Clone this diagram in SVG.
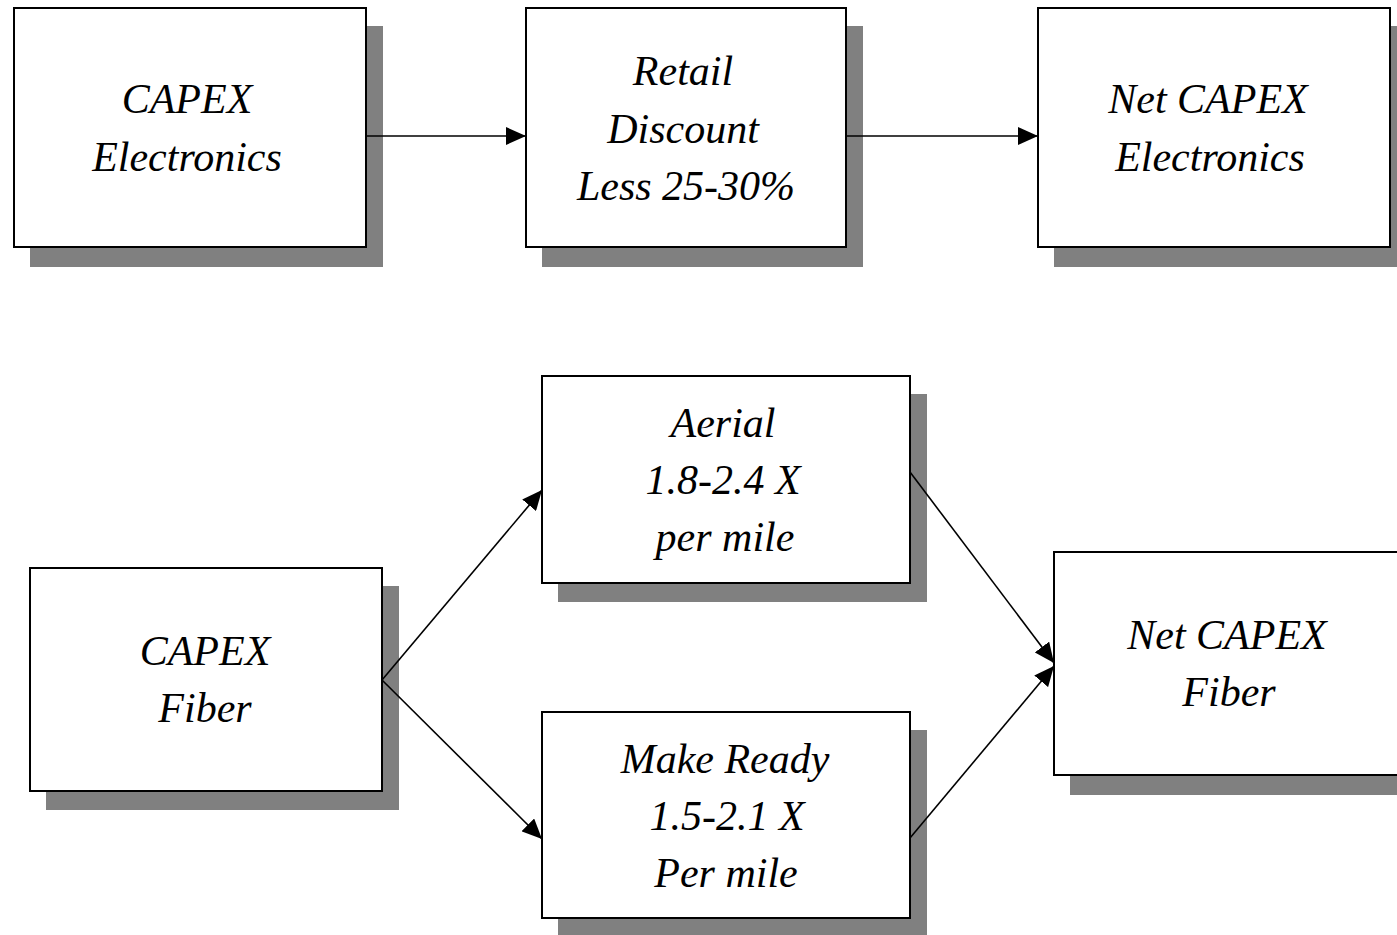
<svg xmlns="http://www.w3.org/2000/svg" width="1397" height="935" viewBox="0 0 1397 935">
<style>
.sh{fill:#808080;stroke:none}
.bx{fill:#fff;stroke:#000;stroke-width:2}
.t{font-family:"Liberation Serif","Times New Roman",serif;font-style:italic;font-size:42px;fill:#000;text-anchor:middle}
.c{stroke:#000;stroke-width:1.6;fill:none;marker-end:url(#ah)}
</style>
<defs>
<marker id="ah" markerUnits="userSpaceOnUse" markerWidth="22" markerHeight="18" refX="20" refY="9" orient="auto">
<path d="M0,0 L20,9 L0,18 Z" fill="#000"/>
</marker>
</defs>
<rect width="1397" height="935" fill="#fff"/>
<g id="n1">
<rect class="sh" x="30" y="26" width="353" height="241"/>
<rect class="bx" x="14" y="8" width="352" height="239"/>
<text class="t" x="187" y="113">CAPEX</text>
<text class="t" x="187" y="171">Electronics</text>
</g>
<g id="n2">
<rect class="sh" x="542" y="26" width="321" height="241"/>
<rect class="bx" x="526" y="8" width="320" height="239"/>
<text class="t" x="683" y="85">Retail</text>
<text class="t" x="683" y="143">Discount</text>
<text class="t" x="686" y="200">Less 25-30%</text>
</g>
<g id="n3">
<rect class="sh" x="1054" y="26" width="353" height="241"/>
<rect class="bx" x="1038" y="8" width="352" height="239"/>
<text class="t" x="1208" y="113">Net CAPEX</text>
<text class="t" x="1210" y="171">Electronics</text>
</g>
<g id="n4">
<rect class="sh" x="46" y="586" width="353" height="224"/>
<rect class="bx" x="30" y="568" width="352" height="223"/>
<text class="t" x="205" y="665">CAPEX</text>
<text class="t" x="205" y="722">Fiber</text>
</g>
<g id="n5">
<rect class="sh" x="558" y="394" width="369" height="208"/>
<rect class="bx" x="542" y="376" width="368" height="207"/>
<text class="t" x="723" y="437">Aerial</text>
<text class="t" x="723" y="494">1.8-2.4 X</text>
<text class="t" x="725" y="551">per mile</text>
</g>
<g id="n6">
<rect class="sh" x="558" y="730" width="369" height="210"/>
<rect class="bx" x="542" y="712" width="368" height="206"/>
<text class="t" x="725" y="773">Make Ready</text>
<text class="t" x="727" y="830">1.5-2.1 X</text>
<text class="t" x="726" y="887">Per mile</text>
</g>
<g id="n7">
<rect class="sh" x="1070" y="570" width="353" height="225"/>
<rect class="bx" x="1054" y="552" width="352" height="223"/>
<text class="t" x="1227" y="649">Net CAPEX</text>
<text class="t" x="1229" y="706">Fiber</text>
</g>
<g id="connectors">
<line class="c" x1="366" y1="136" x2="526" y2="136"/>
<line class="c" x1="846" y1="136" x2="1038" y2="136"/>
<line class="c" x1="382" y1="680" x2="542" y2="490"/>
<line class="c" x1="382" y1="680" x2="542" y2="839"/>
<line class="c" x1="910" y1="472" x2="1054" y2="663"/>
<line class="c" x1="910" y1="838" x2="1054" y2="666"/>
</g>
</svg>
